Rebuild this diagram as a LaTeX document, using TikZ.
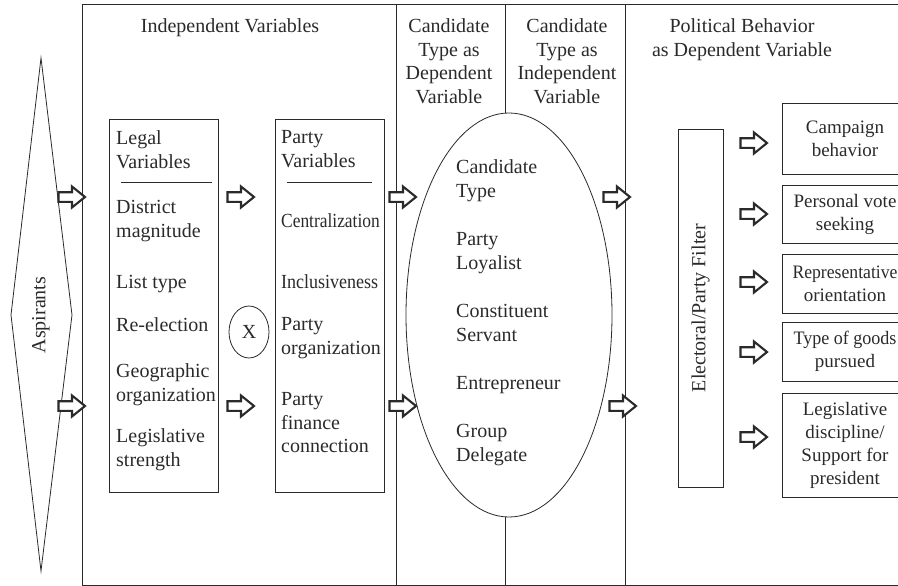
\documentclass[tikz,border=0pt]{standalone}
\usepackage{fontspec}
\setmainfont{Liberation Serif}
\usetikzlibrary{shapes.geometric}
\definecolor{ink}{HTML}{2A2A2A}
\begin{document}
\begin{tikzpicture}[x=1pt,y=-1pt,
  line/.style={draw=ink, line width=0.8pt},
  txt/.style={font=\fontsize{20}{23.5}\selectfont, text=ink, inner sep=0pt, align=left, anchor=north west},
  head/.style={font=\fontsize{20}{23.5}\selectfont, text=ink, inner sep=0pt, align=center, anchor=north},
  outbox/.style={line, font=\fontsize{19}{23}\selectfont, text=ink, align=center, inner sep=0pt, minimum width=126pt},
  barrow/.pic={\draw[draw=ink, line width=2.1pt, fill=white, line join=miter]
     (0.5,-4.8) -- (14,-4.8) -- (14,-10.5) -- (27,0) -- (14,10.5) -- (14,4.8) -- (0.5,4.8) -- cycle;}
]
\useasboundingbox (0,0) rectangle (898,586);
\clip (0,0) rectangle (898,586);

% frame and columns
\draw[line] (898,4) -- (82,4) -- (82,585) -- (898,585);
\draw[line] (396,4) -- (396,585);
\draw[line] (625,4) -- (625,585);

% candidate type ellipse
\node[line, ellipse, minimum width=206pt, minimum height=404pt, inner sep=0pt] (ctype) at (509,315) {};
\draw[line] (505,4) -- (505,113.2);
\draw[line] (505,516.8) -- (505,585);

% headers
\node[head] (hind) at (230,18.5) {Independent Variables};
\node[head] (hdep) at (449,18.5) {Candidate\\Type as\\Dependent\\Variable};
\node[head] (hcind) at (567,18.5) {Candidate\\Type as\\Independent\\Variable};
\node[head] (hpol) at (742,18.5) {Political Behavior\\as Dependent Variable};

% aspirants diamond
\draw[line] (41,58) -- (72,315) -- (41,571) -- (11,315) -- cycle;
\node[font=\fontsize{20}{23.5}\selectfont, text=ink, rotate=90, inner sep=0pt] (asp) at (41,315) {Aspirants};

% legal variables box
\node[line, rectangle, anchor=north west, minimum width=109pt, minimum height=373pt, inner sep=0pt] (legal) at (109,119) {};
\draw[line] (121,182) -- (212,182);
\node[txt] (l1) at (116,130.5) {Legal\\Variables};
\node[txt] (l2) at (116,200.5) {District\\magnitude};
\node[txt] (l3) at (116,275.5) {List type};
\node[txt] (l4) at (116,317.5) {Re-election};
\node[txt] (l5) at (116,363.5) {Geographic\\organization};
\node[txt] (l6) at (116,428.5) {Legislative\\strength};

% interaction
\node[line, ellipse, minimum width=40pt, minimum height=52pt, inner sep=0pt, font=\fontsize{20}{23.5}\selectfont, text=ink] (xop) at (249,332) {X};

% party variables box
\node[line, rectangle, anchor=north west, minimum width=109pt, minimum height=373pt, inner sep=0pt] (party) at (275,119) {};
\draw[line] (287,182) -- (372,182);
\node[txt] (p1) at (281,130.5) {Party\\Variables};
\node[txt] (p2) at (281,213.5) {\scalebox{0.87}[1]{Centralization}};
\node[txt] (p3) at (281,274.5) {\scalebox{0.9}[1]{Inclusiveness}};
\node[txt] (p4) at (281,317.5) {Party\\organization};
\node[txt] (p5) at (281,392.5) {Party\\finance\\connection};

% candidate types
\node[txt] (c1) at (456,159.5) {Candidate\\Type};
\node[txt] (c2) at (456,232.5) {Party\\Loyalist};
\node[txt] (c3) at (456,304.5) {Constituent\\Servant};
\node[txt] (c4) at (456,376.5) {Entrepreneur};
\node[txt] (c5) at (456,424.5) {Group\\Delegate};

% filter
\node[line, rectangle, rotate=90, minimum width=358pt, minimum height=45pt, inner sep=0pt,
      font=\fontsize{20}{23.5}\selectfont, text=ink] (filter) at (700.5,308) {Electoral/Party Filter};

% outcome boxes (right side runs off the page)
\node[outbox, minimum height=71pt] (o1) at (845,138.5) {Campaign\\behavior};
\node[outbox, minimum height=58pt] (o2) at (845,214) {Personal vote\\seeking};
\node[outbox, minimum height=59pt] (o3) at (845,283.5) {\scalebox{0.93}[1]{Representative}\\orientation};
\node[outbox, minimum height=59pt] (o4) at (845,351.5) {\scalebox{0.95}[1]{Type of goods}\\pursued};
\node[outbox, minimum height=104pt] (o5) at (845,445) {Legislative\\discipline/\\Support for\\president};

% block arrows
\pic at (58,197) {barrow};
\pic at (58,406) {barrow};
\pic at (227,197) {barrow};
\pic at (227,406) {barrow};
\pic at (389,197) {barrow};
\pic at (389,406) {barrow};
\pic at (603,197) {barrow};
\pic at (609,406) {barrow};
\pic at (740,143) {barrow};
\pic at (740,214) {barrow};
\pic at (740,282) {barrow};
\pic at (740,352) {barrow};
\pic at (740,437) {barrow};
\end{tikzpicture}
\end{document}
